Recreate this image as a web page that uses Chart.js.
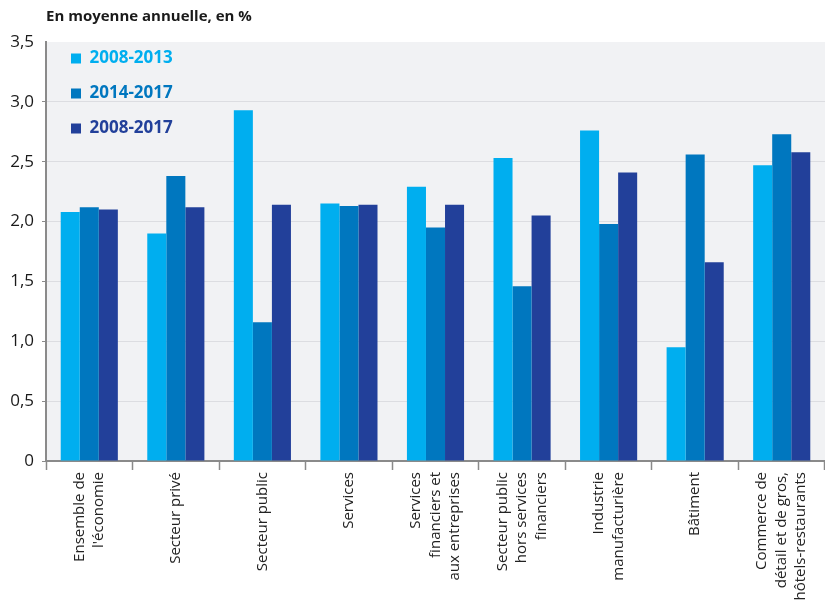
<!DOCTYPE html>
<html><head><meta charset="utf-8">
<script src="https://cdn.jsdelivr.net/npm/chart.js@4/dist/chart.umd.min.js"></script>
<style>html,body{margin:0;padding:0;background:#fff}#wrap{width:825px;height:601px}</style>
</head><body><div id="wrap"><canvas id="c" width="825" height="601"></canvas></div>
<script>
const categories = [["Ensemble de","l'économie"],"Secteur privé","Secteur public","Services",["Services","financiers et","aux entreprises"],["Secteur public","hors services","financiers"],["Industrie","manufacturière"],"Bâtiment",["Commerce de","détail et de gros,","hôtels-restaurants"]];
const seriesNames = ["2008-2013","2014-2017","2008-2017"];
const values2008_2013 = [2.08,1.90,2.93,2.15,2.29,2.53,2.76,0.95,2.47];
const values2014_2017 = [2.12,2.38,1.16,2.13,1.95,1.46,1.98,2.56,2.73];
const values2008_2017 = [2.10,2.12,2.14,2.14,2.14,2.05,2.41,1.66,2.58];
const yMin = 0, yMax = 3.5, yStep = 0.5;
const titleText = "En moyenne annuelle, en %";

const colors = ["#00aeef","#0077bf","#22409a"];
const FONT = "'Open Sans', sans-serif";

const bgPlugin = {
  id: 'bg',
  beforeDraw(chart) {
    const {ctx, chartArea: a} = chart;
    ctx.save();
    ctx.fillStyle = '#f1f2f4';
    ctx.fillRect(a.left, a.top, a.right - a.left, a.bottom - a.top);
    ctx.restore();
    // legend placement inside plot area
    const lg = chart.legend;
    if (lg) { lg.left = a.left + 7; lg.top = a.top - 10; }
    // center multi-line rotated x labels on their category
    const xs = chart.scales.x;
    const items = xs.getLabelItems(a);
    items.forEach(it => {
      if (it._centered) return;
      const n = Array.isArray(it.label) ? it.label.length : 1;
      const lh = it.font.lineHeight;
      const t = it.options ? it.options.translation : it.translation;
      if (t) t[0] -= (n - 1) * lh / 2;
      it._centered = true;
    });
  }
};

new Chart(document.getElementById('c'), {
  type: 'bar',
  data: {
    labels: categories,
    datasets: seriesNames.map((n, i) => ({
      label: n,
      data: [values2008_2013, values2014_2017, values2008_2017][i],
      backgroundColor: colors[i],
      borderWidth: 0,
      categoryPercentage: 0.66,
      barPercentage: 1.0
    }))
  },
  options: {
    responsive: false,
    animation: false,
    events: [],
    devicePixelRatio: 1,
    layout: { padding: { left: 8, right: 0, top: 0, bottom: 0 } },
    plugins: {
      title: {
        display: true, text: titleText, align: 'start', fullSize: false,
        color: '#1a1a1a', font: { family: FONT, size: 15, weight: 'bold' },
        padding: { top: 8, bottom: 16 }
      },
      legend: {
        position: 'chartArea', align: 'start',
        labels: {
          boxWidth: 10, boxHeight: 10, padding: 18,
          font: { family: FONT, size: 17, weight: 'bold' },
          generateLabels(chart) {
            return chart.data.datasets.map((d, i) => ({
              text: d.label, fillStyle: colors[i], strokeStyle: colors[i], lineWidth: 0,
              fontColor: colors[i], datasetIndex: i, hidden: false
            }));
          }
        }
      },
      tooltip: { enabled: false }
    },
    scales: {
      x: {
        offset: true,
        grid: { offset: true, drawOnChartArea: false, drawTicks: true, tickLength: 9, tickColor: '#8a8a8a', tickWidth: 1.5 },
        border: { color: '#8a8a8a', width: 2 },
        ticks: {
          autoSkip: false, minRotation: 90, maxRotation: 90, padding: 2,
          color: '#222', font: { family: FONT, size: 15, lineHeight: 1.3 }
        },
        afterFit(s) { s.height = 140; s.paddingLeft = 0; s.paddingRight = 0; }
      },
      y: {
        min: yMin, max: yMax,
        grid: {
          color: ctx => (ctx.tick && ctx.tick.value === yMax) ? 'rgba(0,0,0,0)' : '#dcdde1',
          lineWidth: 1, drawTicks: true, tickLength: 4,
          tickColor: ctx => (ctx.tick && ctx.tick.value === yMax) ? 'rgba(0,0,0,0)' : '#8a8a8a'
        },
        border: { color: '#8a8a8a', width: 2 },
        ticks: {
          stepSize: yStep, padding: 8, color: '#1a1a1a',
          font: { family: FONT, size: 17 },
          callback: v => v === 0 ? '0' : v.toFixed(1).replace('.', ',')
        },
        afterFit(s) { s.width = 38; }
      }
    }
  },
  plugins: [bgPlugin]
});
</script>
</body></html>
